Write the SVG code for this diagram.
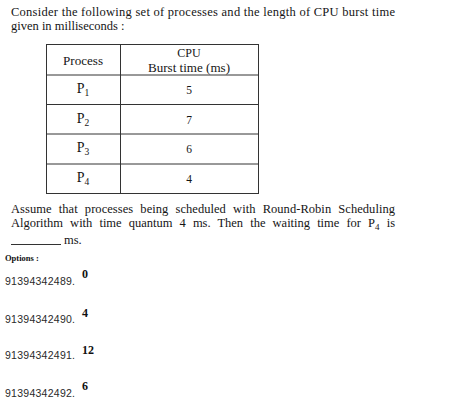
<svg xmlns="http://www.w3.org/2000/svg" width="453" height="404" viewBox="0 0 453 404">
<style>
.t{font-family:"Liberation Serif","Times New Roman",serif;font-size:12.5px;fill:#151515}
.c{font-family:"Liberation Serif","Times New Roman",serif;font-size:12px;fill:#151515;text-anchor:middle}
.p{font-size:14px}
.n{font-size:11.5px}
.s{font-size:9.5px}
.o{font-family:"Liberation Sans",Arial,sans-serif;font-size:10.5px;fill:#2a2a2a}
.b{font-family:"Liberation Serif","Times New Roman",serif;font-weight:bold;font-size:12px;fill:#111}
.ln{stroke:#333;stroke-width:1;fill:none}
</style>
<rect width="453" height="404" fill="#fff"/>
<g id="question">
<text class="t" x="11" y="16" textLength="384" lengthAdjust="spacing">Consider the following set of processes and the length of CPU burst time</text>
<text class="t" x="11" y="30">given in milliseconds :</text>
</g>
<g id="table">
<rect class="ln" x="46.5" y="44.5" width="212" height="149"/>
<line class="ln" x1="120.5" y1="44.5" x2="120.5" y2="193.5"/>
<line class="ln" x1="46.5" y1="75" x2="258.5" y2="75" stroke-width="1.4"/>
<line class="ln" x1="46.5" y1="104.5" x2="258.5" y2="104.5"/>
<line class="ln" x1="46.5" y1="134" x2="258.5" y2="134" stroke-width="1.4"/>
<line class="ln" x1="46.5" y1="164" x2="258.5" y2="164" stroke-width="1.4"/>
<text class="c" x="83" y="65" textLength="40" lengthAdjust="spacingAndGlyphs">Process</text>
<text class="c" x="189" y="57">CPU</text>
<text class="c" x="189" y="72" textLength="82" lengthAdjust="spacingAndGlyphs">Burst time (ms)</text>
<text class="c p" x="83" y="93">P<tspan class="s" dy="3">1</tspan></text>
<text class="c n" x="189" y="94">5</text>
<text class="c p" x="83" y="123">P<tspan class="s" dy="3">2</tspan></text>
<text class="c n" x="189" y="124">7</text>
<text class="c p" x="83" y="152">P<tspan class="s" dy="3">3</tspan></text>
<text class="c n" x="189" y="153">6</text>
<text class="c p" x="83" y="182">P<tspan class="s" dy="3">4</tspan></text>
<text class="c n" x="189" y="183">4</text>
</g>
<g id="paragraph">
<text class="t" x="11" y="213" textLength="384" lengthAdjust="spacing" style="word-spacing:4px">Assume that processes being scheduled with Round-Robin Scheduling</text>
<text class="t" x="11" y="227" textLength="384" lengthAdjust="spacing" style="word-spacing:4px">Algorithm with time quantum 4 ms. Then the waiting time for P<tspan style="font-size:9px" dy="3">4</tspan><tspan dy="-3"> is</tspan></text>
<line class="ln" x1="11" y1="244.5" x2="61" y2="244.5"/>
<text class="t" x="64" y="244">ms.</text>
</g>
<g id="options">
<text class="b" x="5" y="261" style="font-size:8.5px">Options :</text>
<text class="o" x="5" y="285" textLength="70">91394342489.</text>
<text class="b" x="82" y="278">0</text>
<text class="o" x="5" y="323" textLength="70">91394342490.</text>
<text class="b" x="82" y="317">4</text>
<text class="o" x="5" y="359" textLength="70">91394342491.</text>
<text class="b" x="82" y="354">12</text>
<text class="o" x="5" y="397" textLength="70">91394342492.</text>
<text class="b" x="82" y="390">6</text>
</g>
</svg>
